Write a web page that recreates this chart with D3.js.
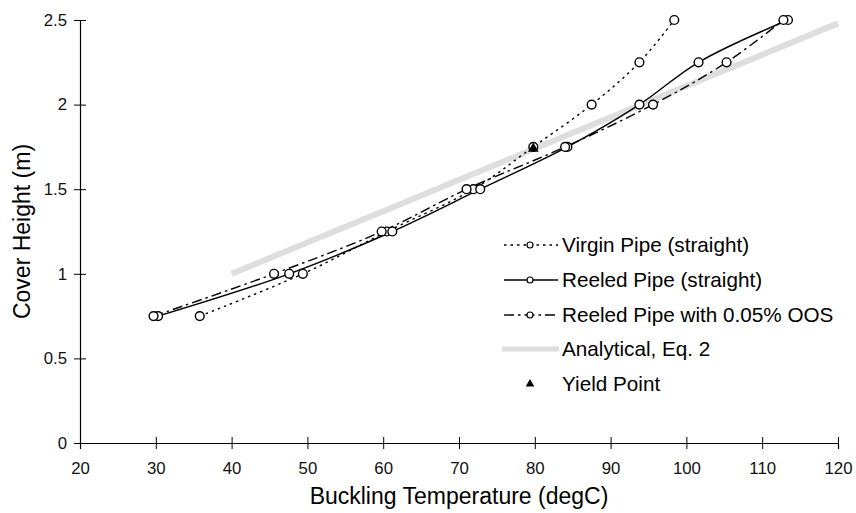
<!DOCTYPE html>
<html>
<head>
<meta charset="utf-8">
<script src="https://cdn.jsdelivr.net/npm/d3@7.9.0/dist/d3.min.js"></script>
<style>
  body { margin: 0; background: #fff; }
  svg { font-family: "Liberation Sans", Arial, sans-serif; }
</style>
</head>
<body>
<svg width="856" height="513"></svg>
<script>
// cover heights (m) shared by the three FE series
const heights = [0.75, 1.0, 1.25, 1.5, 1.75, 2.0, 2.25, 2.5];
// buckling temperatures (degC)
const virginTemps = [35.8, 49.4, 60.5, 71.9, 79.8, 87.5, 93.8, 98.4];
const reeledTemps = [30.3, 47.6, 61.2, 72.8, 84.3, 93.8, 101.6, 113.4];
const oosTemps = [29.7, 45.6, 59.8, 71.0, 84.0, 95.6, 105.3, 112.8];
// analytical line
const analyticalTemps = [40, 60, 80, 100, 120];
const analyticalHeights = [1.0, 1.37, 1.74, 2.11, 2.48];
// yield point
const yieldTemps = [79.8];
const yieldHeights = [1.74];

const xTicks = [20, 30, 40, 50, 60, 70, 80, 90, 100, 110, 120];
const yTicks = [0, 0.5, 1, 1.5, 2, 2.5];

const svg = d3.select('svg');
let x = d3.scaleLinear().domain([20, 120]).range([80, 838]);
let y = d3.scaleLinear().domain([0, 2.5]).range([443, 20]);

// axes, ticks cross the axis line
let xAxis = svg.append('g')
  .attr('transform', `translate(0,${y(0)})`)
  .call(d3.axisBottom(x).tickValues(xTicks).tickSize(6).tickPadding(13).tickFormat(d3.format('~g')));
xAxis.selectAll('.tick line').attr('y1', -6);
let yAxis = svg.append('g')
  .attr('transform', `translate(${x(20)},0)`)
  .call(d3.axisLeft(y).tickValues(yTicks).tickSize(6).tickPadding(7).tickFormat(d3.format('~g')));
yAxis.selectAll('.tick line').attr('x1', 6);
svg.selectAll('.domain').attr('stroke', '#000').attr('stroke-width', 1.2);
svg.selectAll('.tick line').attr('stroke', '#000');
svg.selectAll('.tick text').attr('font-size', 16.8).attr('fill', '#111')
  .attr('font-family', '"Liberation Sans", Arial, sans-serif');

// axis titles
svg.append('text')
  .attr('x', (x(20) + x(120)) / 2).attr('y', 504)
  .attr('text-anchor', 'middle').attr('font-size', 23)
  .text('Buckling Temperature (degC)');
svg.append('text')
  .attr('transform', `translate(30,${y(1.25)}) rotate(-90)`)
  .attr('text-anchor', 'middle').attr('font-size', 23)
  .text('Cover Height (m)');

// analytical line (drawn first, sits underneath)
let straight = d3.line().x((d) => x(d[0])).y((d) => y(d[1]));
svg.append('path')
  .attr('d', straight(d3.zip(analyticalTemps, analyticalHeights)))
  .attr('fill', 'none').attr('stroke', '#dedede').attr('stroke-width', 6);

// FE series
let smooth = d3.line().x((d) => x(d[0])).y((d) => y(d[1])).curve(d3.curveCatmullRom.alpha(0.5));
let series = [
  { name: 'Virgin Pipe (straight)', temps: virginTemps, dash: '2.5,4' },
  { name: 'Reeled Pipe (straight)', temps: reeledTemps, dash: null },
  { name: 'Reeled Pipe with 0.05% OOS', temps: oosTemps, dash: '10,4,2.5,4' },
];
series.forEach((s) => {
  let pts = d3.zip(s.temps, heights);
  svg.append('path')
    .attr('d', smooth(pts))
    .attr('fill', 'none').attr('stroke', '#000').attr('stroke-width', 1.4)
    .attr('stroke-dasharray', s.dash);
});
series.forEach((s) => {
  svg.append('g').selectAll('circle')
    .data(d3.zip(s.temps, heights))
    .join('circle')
    .attr('cx', (d) => x(d[0])).attr('cy', (d) => y(d[1])).attr('r', 4.4)
    .attr('fill', '#fff').attr('stroke', '#000').attr('stroke-width', 1.4);
});

// yield point
let tri = d3.symbol().type(d3.symbolTriangle).size(50);
svg.append('g').selectAll('path')
  .data(d3.zip(yieldTemps, yieldHeights))
  .join('path')
  .attr('d', tri)
  .attr('transform', (d) => `translate(${x(d[0])},${y(d[1])})`)
  .attr('fill', '#000');

// legend
let legend = svg.append('g');
let rowY = [245, 280, 315, 349, 384];
series.forEach((s, i) => {
  legend.append('line')
    .attr('x1', 504).attr('x2', 558).attr('y1', rowY[i]).attr('y2', rowY[i])
    .attr('stroke', '#000').attr('stroke-width', 1.4).attr('stroke-dasharray', s.dash);
  legend.append('circle')
    .attr('cx', 530).attr('cy', rowY[i]).attr('r', 3)
    .attr('fill', '#fff').attr('stroke', '#000').attr('stroke-width', 1.2);
});
legend.append('line')
  .attr('x1', 502).attr('x2', 559).attr('y1', rowY[3]).attr('y2', rowY[3])
  .attr('stroke', '#dedede').attr('stroke-width', 5);
legend.append('path')
  .attr('d', d3.symbol().type(d3.symbolTriangle).size(32))
  .attr('transform', `translate(530,${rowY[4]})`)
  .attr('fill', '#000');
let labels = series.map((s) => s.name).concat(['Analytical, Eq. 2', 'Yield Point']);
labels.forEach((t, i) => {
  legend.append('text')
    .attr('x', 562).attr('y', rowY[i]).attr('dy', '0.35em')
    .attr('font-size', 20.7)
    .text(t);
});
</script>
</body>
</html>
